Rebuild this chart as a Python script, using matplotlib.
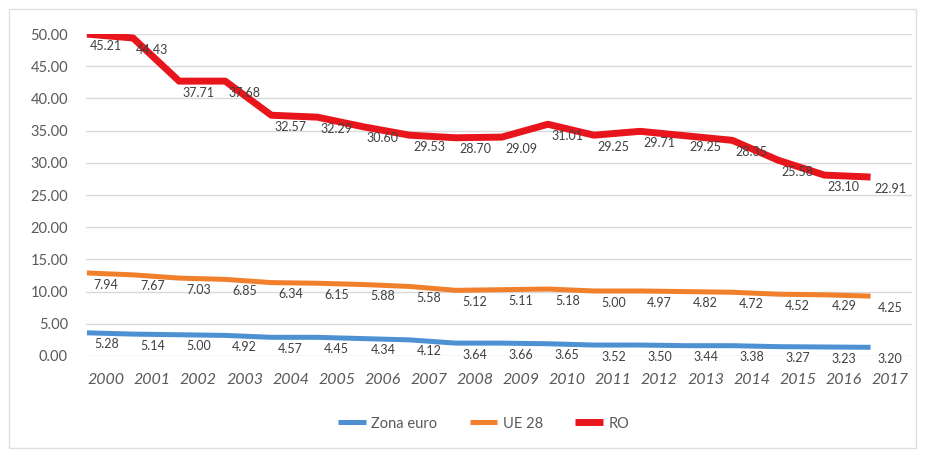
import matplotlib.pyplot as plt
from matplotlib.patches import Rectangle

plt.rcParams['font.family'] = ['Lato', 'DejaVu Sans']

years = [str(y) for y in range(2000, 2018)]

# plotted series
zona_euro = [3.6, 3.4, 3.3, 3.2, 2.9, 2.9, 2.7, 2.5, 2.0, 2.0, 1.9, 1.7, 1.7, 1.6, 1.6, 1.45, 1.4, 1.35]
ue28 = [12.9, 12.6, 12.1, 11.9, 11.4, 11.3, 11.1, 10.8, 10.2, 10.3, 10.4, 10.1, 10.1, 10.0, 9.9, 9.6, 9.5, 9.3]
ro = [50.0, 49.4, 42.7, 42.7, 37.4, 37.1, 35.6, 34.3, 33.9, 34.0, 36.0, 34.3, 34.9, 34.2, 33.5, 30.4, 28.1, 27.8]

# data labels printed under each point
zona_euro_labels = ['5.28', '5.14', '5.00', '4.92', '4.57', '4.45', '4.34', '4.12', '3.64', '3.66',
                    '3.65', '3.52', '3.50', '3.44', '3.38', '3.27', '3.23', '3.20']
ue28_labels = ['7.94', '7.67', '7.03', '6.85', '6.34', '6.15', '5.88', '5.58', '5.12', '5.11',
               '5.18', '5.00', '4.97', '4.82', '4.72', '4.52', '4.29', '4.25']
ro_labels = ['45.21', '44.43', '37.71', '37.68', '32.57', '32.29', '30.60', '29.53', '28.70', '29.09',
             '31.01', '29.25', '29.71', '29.25', '28.35', '25.58', '23.10', '22.91']

fig = plt.figure(figsize=(9.25, 4.55), dpi=100)
ax = fig.add_axes([0.093, 0.2176, 0.893, 0.7074])

x = list(range(len(years)))
shift = 0.42
series = [
    (zona_euro, zona_euro_labels, '#4e91d2', 3.6, 'Zona euro'),
    (ue28, ue28_labels, '#f0802b', 3.6, 'UE 28'),
    (ro, ro_labels, '#e8161c', 5.0, 'RO'),
]
for vals, labels, color, lw, name in series:
    ax.plot(x, vals, color=color, lw=lw, label=name, solid_joinstyle='round',
            solid_capstyle='butt', zorder=3)
    for i, (v, t) in enumerate(zip(vals, labels)):
        ax.annotate(t, (i + shift, v), xytext=(0, -4), textcoords='offset points',
                    ha='center', va='top', fontsize=9, color='#404040', zorder=4)

ax.set_ylim(0, 50)
ax.set_xlim(-0.02, 17.9)
ax.set_yticks(range(0, 51, 5))
ax.set_yticklabels([f'{v:.2f}' for v in range(0, 51, 5)], fontsize=10.5, color='#595959')
ax.set_xticks([i + shift for i in x])
ax.set_xticklabels(years, fontsize=11.5, style='italic', color='#595959')
ax.tick_params(length=0, pad=12)
ax.tick_params(axis='y', pad=13)
ax.grid(axis='y', color='#d9d9d9', lw=1)
ax.set_axisbelow(True)
for s in ax.spines.values():
    s.set_visible(False)

fig.legend(loc='lower center', bbox_to_anchor=(0.523, 0.025), ncol=3, frameon=False,
           fontsize=10.5, handlelength=1.9, handletextpad=0.4, columnspacing=2.2,
           labelcolor='#595959')

fig.patches.append(Rectangle((0.01, 0.015), 0.98, 0.965, transform=fig.transFigure,
                             fill=False, edgecolor='#e0e0e0', lw=1))

fig.savefig('out.png', dpi=100)
